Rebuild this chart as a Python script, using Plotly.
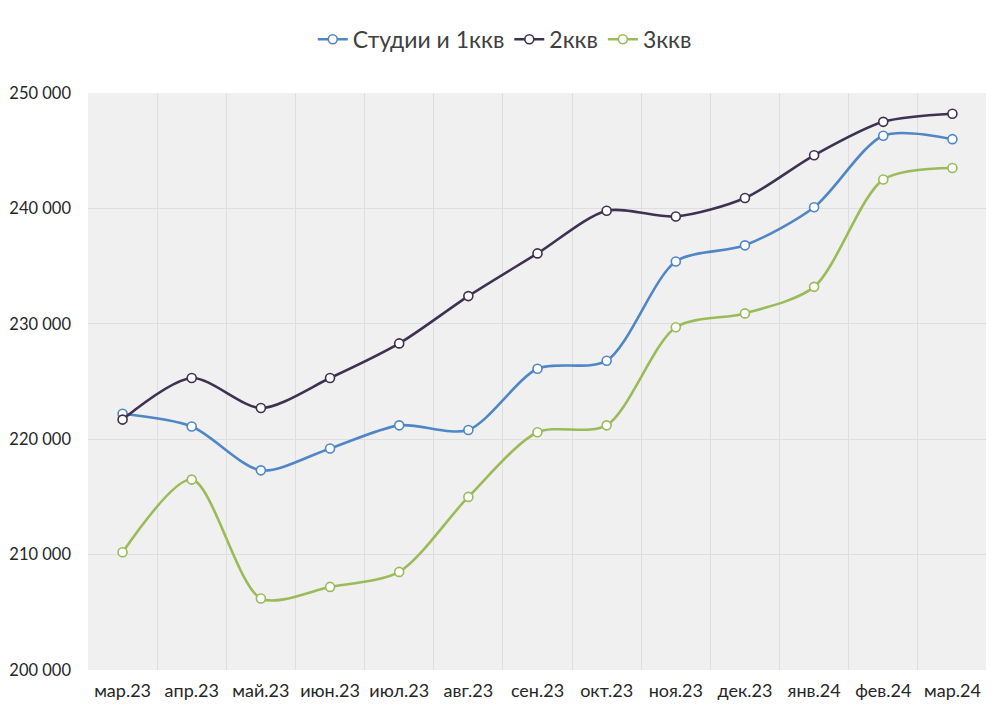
import plotly.graph_objects as go

categories = ["мар.23", "апр.23", "май.23", "июн.23", "июл.23", "авг.23", "сен.23",
              "окт.23", "ноя.23", "дек.23", "янв.24", "фев.24", "мар.24"]

studio_1k = [222200, 221100, 217300, 219200, 221200, 220800, 226100,
             226800, 235400, 236800, 240100, 246300, 246000]
two_k = [221700, 225300, 222700, 225300, 228300, 232400, 236100,
         239800, 239300, 240900, 244600, 247500, 248200]
three_k = [210200, 216500, 206200, 207200, 208500, 215000, 220600,
           221200, 229700, 230900, 233200, 242500, 243500]

series_names = ["Студии и 1ккв", "2ккв", "3ккв"]
series_values = [studio_1k, two_k, three_k]
series_colors = ["#4F86C6", "#3F3151", "#9BBB59"]

y_ticks = [200000, 210000, 220000, 230000, 240000, 250000]

fig = go.Figure()
for name, vals, col in zip(series_names, series_values, series_colors):
    fig.add_trace(go.Scatter(
        x=categories, y=vals, name=name, mode="lines+markers",
        line=dict(color=col, width=2.6, shape="spline", smoothing=0.8),
        marker=dict(symbol="circle", size=9, color="white",
                    line=dict(color=col, width=1.6)),
    ))

fig.update_layout(
    width=986, height=712,
    margin=dict(l=80, r=7, t=85, b=50, autoexpand=False),
    paper_bgcolor="white",
    plot_bgcolor="#f0f0f0",
    separators=", ",
    font=dict(family="Lato, 'Open Sans', sans-serif", color="#262626"),
    legend=dict(orientation="h", x=0.25, xanchor="left", y=1.093, yanchor="middle",
                font=dict(size=23, color="#404040"), itemwidth=30, tracegroupgap=0),
    showlegend=True,
)
fig.update_xaxes(
    type="category", range=[-0.5, 12.5], tickson="boundaries",
    showgrid=True, gridcolor="#dedede", gridwidth=1,
    ticks="", showline=False, zeroline=False, automargin=False,
    tickangle=0,
    tickfont=dict(size=18, color="#262626"),
    ticklabelstandoff=8,
)
fig.update_yaxes(
    range=[200000, 250000], tickvals=y_ticks, tickformat=",d",
    showgrid=True, gridcolor="#dedede", gridwidth=1,
    ticks="", showline=False, zeroline=False, automargin=False,
    tickfont=dict(size=16.5, color="#262626"),
    ticklabelstandoff=16,
)
fig.add_shape(type="line", xref="paper", yref="paper", x0=1.004, x1=1.004,
              y0=-0.2, y1=1.3, line=dict(color="#d0d0d0", width=1))

fig.write_html("out.html")
